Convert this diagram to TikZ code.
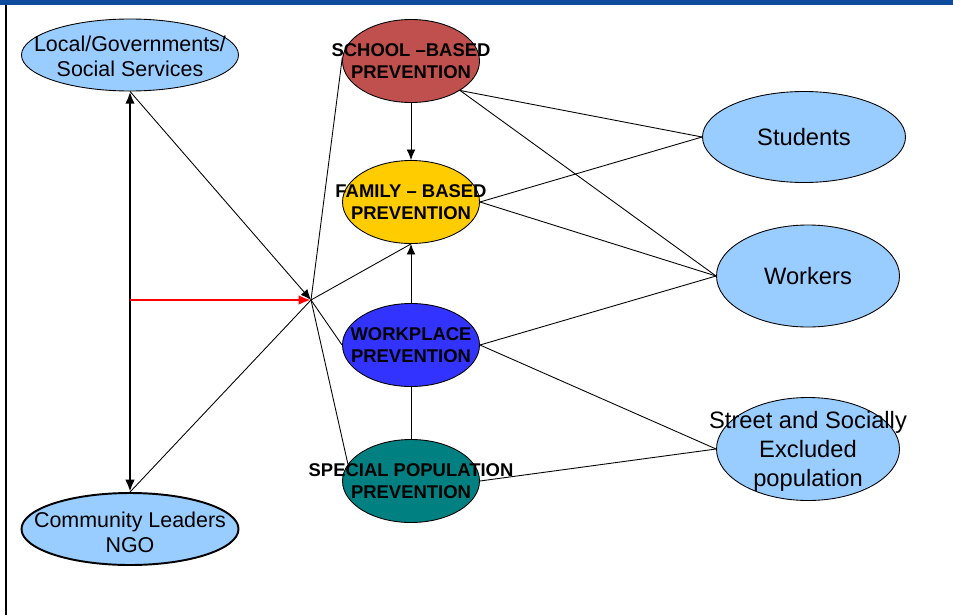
\documentclass[tikz,border=0pt]{standalone}
\usepackage{fontspec}
\setmainfont{Liberation Sans}
\usetikzlibrary{shapes.geometric, arrows.meta, calc}
\definecolor{bandblue}{RGB}{14,75,155}
\definecolor{paleblue}{RGB}{153,204,255}
\definecolor{schoolred}{RGB}{192,80,77}
\definecolor{familygold}{RGB}{255,204,0}
\definecolor{workblue}{RGB}{51,51,255}
\definecolor{specialteal}{RGB}{0,128,128}

\begin{document}
\begin{tikzpicture}[
    oval/.style={ellipse, draw, inner sep=0pt, line width=0.5pt},
    group/.style={oval, fill=paleblue, minimum width=4.34cm, minimum height=1.44cm},
    target/.style={oval, fill=paleblue},
    prog/.style={oval, minimum width=2.74cm, minimum height=1.66cm},
    grouptext/.style={align=center, inner sep=0pt, font=\fontsize{12.2}{14.4}\selectfont},
    targettext/.style={align=center, inner sep=0pt, font=\fontsize{13.5}{16.6}\selectfont},
    progtext/.style={align=center, inner sep=0pt, font=\bfseries\fontsize{10.5}{12.5}\selectfont},
    link/.style={line width=0.5pt},
    tip/.style={link, -{Latex[length=6pt,width=5pt]}}
]
    \useasboundingbox (0,0) rectangle (19.06,-12.3);

    % Frame
    \fill[bandblue] (0,0) rectangle (19.06,-0.1);
    \draw[line width=1.1pt] (0.12,-0.1) -- (0.12,-12.3);

    % Groups on the left
    \node[group] (loc) at (2.6,-1.1) {};
    \node[group, line width=1.1pt] (ngo) at (2.6,-10.58) {};

    % Prevention programmes
    \node[prog, fill=schoolred] (school) at (8.22,-1.22) {};
    \node[prog, fill=familygold] (family) at (8.22,-4.04) {};
    \node[prog, fill=workblue] (work) at (8.22,-6.9) {};
    \node[prog, fill=specialteal] (special) at (8.22,-9.62) {};

    % Target groups
    \node[target, minimum width=4.06cm, minimum height=1.82cm] (students) at (16.08,-2.74) {};
    \node[target, minimum width=3.66cm, minimum height=2.04cm] (workers) at (16.16,-5.52) {};
    \node[target, minimum width=3.66cm, minimum height=2.06cm] (street) at (16.16,-8.98) {};

    % Hub
    \coordinate (hub) at (6.22,-6.0);

    % Left side
    \draw[line width=1.6pt, {Latex[length=7pt,width=5.5pt]}-{Latex[length=7pt,width=5.5pt]}] (loc.south) -- (ngo.north);
    \draw[tip] (loc.south) -- (hub);
    \draw[link] (ngo.north) -- (hub);
    \draw[red, line width=1.4pt, -{Latex[length=7pt,width=5.5pt]}] (loc.south |- hub) -- (hub);

    % Hub to programmes
    \draw[link] (hub) -- (school.177);
    \draw[link] (hub) -- (family.south);
    \draw[link] (hub) -- (work.west);
    \draw[link] (hub) -- (special.165);

    % Between programmes
    \draw[tip] (school.south) -- (family.north);
    \draw[tip] (work.north) -- (family.south);
    \draw[link] (work.south) -- (special.north);

    % Programmes to targets
    \draw[link] (school.-31) -- (students.west);
    \draw[link] (school.-31) -- (workers.west);
    \draw[link] (family.east) -- (students.west);
    \draw[link] (family.east) -- (workers.west);
    \draw[link] (work.east) -- (workers.west);
    \draw[link] (work.east) -- (street.west);
    \draw[link] (special.east) -- (street.west);

    % Texts
    \node[grouptext] (loc-t) at ([yshift=-0.03cm]loc) {Local/Governments/\\Social Services};
    \node[grouptext] (ngo-t) at ([yshift=-0.06cm]ngo) {Community Leaders\\NGO};
    \node[progtext] (school-t) at (school) {SCHOOL –BASED\\PREVENTION};
    \node[progtext] (family-t) at (family) {FAMILY – BASED\\PREVENTION};
    \node[progtext] (work-t) at (work) {WORKPLACE\\PREVENTION};
    \node[progtext] (special-t) at (special) {SPECIAL POPULATION\\PREVENTION};
    \node[targettext] (students-t) at (students) {Students};
    \node[targettext] (workers-t) at (workers) {Workers};
    \node[targettext] (street-t) at ([yshift=-0.05cm]street) {Street and Socially\\Excluded\\population};
\end{tikzpicture}
\end{document}
